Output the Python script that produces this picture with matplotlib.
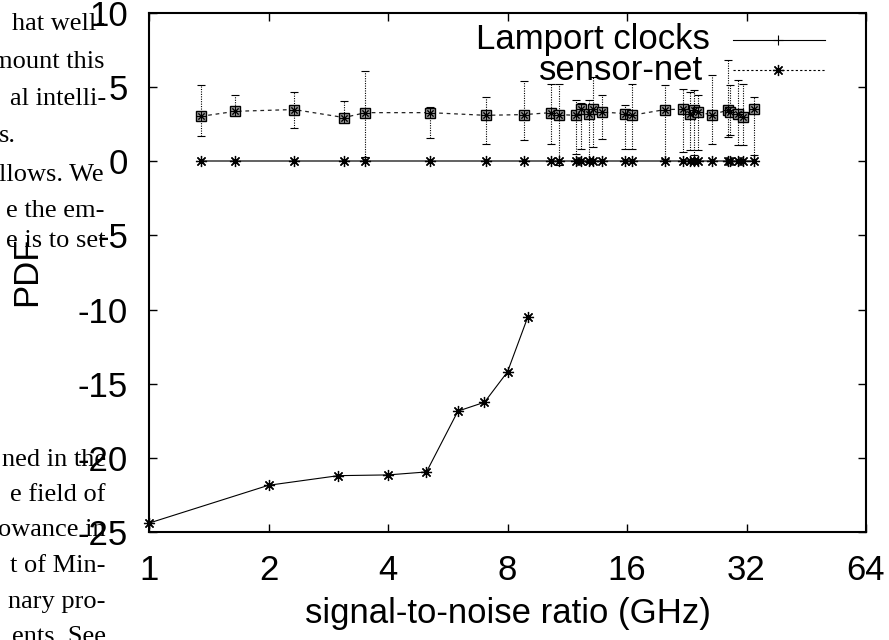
import matplotlib
matplotlib.use("Agg")
import matplotlib.pyplot as plt
from matplotlib.lines import Line2D
import numpy as np

# ---------------- data ----------------
curve_x = [1, 2, 3, 4, 5, 6, 7, 8, 9]
curve_y = [-24.4, -21.85, -21.2, -21.15, -20.95, -16.85, -16.25, -14.2, -10.5]

snr_x = [1.35, 1.65, 2.32, 3.10, 3.51, 5.10, 7.05, 8.82, 10.28, 10.80,
         11.88, 12.26, 12.86, 13.16, 13.82, 15.81, 16.44, 19.95, 22.18, 23.06,
         23.6, 24.15, 26.15, 28.7, 29.08, 30.5, 31.4, 33.4]
lamport_y = [0.0] * len(snr_x)
sensor_y = [3.03, 3.37, 3.49, 2.95, 3.28, 3.28, 3.10, 3.15, 3.28, 3.15,
            3.10, 3.55, 3.22, 3.51, 3.32, 3.22, 3.10, 3.49, 3.51, 3.22,
            3.44, 3.30, 3.15, 3.44, 3.32, 3.22, 2.99, 3.51]
sensor_hi = [5.12, 4.50, 4.67, 4.05, 6.09, 3.66, 4.34, 5.41, 5.24, 5.24,
             4.10, 3.90, 4.11, 5.68, 4.45, 3.78, 5.24, 5.17, 4.90, 4.67,
             4.79, 4.45, 5.80, 6.81, 5.12, 5.46, 5.24, 4.34]
sensor_lo = [1.69, 3.10, 2.22, 2.80, 0.29, 1.60, 1.19, 1.46, 1.19, -0.27,
             0.52, 0.86, -0.05, 0.96, 1.53, 0.86, 0.86, 0.18, 0.63, 0.74,
             0.40, 0.74, 1.19, 1.64, 1.75, 1.08, 1.08, 0.40]

x_ticks = [1, 2, 4, 8, 16, 32, 64]
x_labels = ["1", "2", "4", "8", "16", "32", "64"]
y_ticks = [-25, -20, -15, -10, -5, 0, 5, 10]
y_labels = ["-25", "-20", "-15", "-10", "-5", "0", "5", "10"]

legend_labels = ["Lamport clocks", "sensor-net"]

bg_lines_top = ["e.", "hat well-", "mount this", "al intelli-", "s.",
                "llows. We", "e the em-", "e is to set"]
bg_lines_bottom = ["ned in the", "e field of", "owance in", "t of Min-",
                   "nary pro-", "ents. See"]

# ---------------- figure ----------------
W, H = 889, 640
fig = plt.figure(figsize=(W / 100, H / 100), dpi=100)

def fx(px):
    return px / W

def fy(py):
    return 1 - py / H

L, R, T, B = 149, 866, 13, 532
ax = fig.add_axes([fx(L), fy(B), fx(R) - fx(L), fy(T) - fy(B)])

sans = "Liberation Sans"
serif = "Liberation Serif"
fs = 25

# background paragraph fragments (from the page the chart was cut from)
top_pos = [(75, -12), (105, 24), (105, 62), (106, 99), (None, 136),
           (104, 175), (105, 211), (106, 241)]
for txt, (xr, yc) in zip(bg_lines_top, top_pos):
    if xr is None:
        fig.text(fx(-1), fy(yc), txt, family=serif, fontsize=19,
                 ha="left", va="center", zorder=0)
    else:
        fig.text(fx(xr), fy(yc), txt, family=serif, fontsize=19,
                 ha="right", va="center", zorder=0)
bot_pos = [460, 495, 530, 566, 602, 637]
for txt, yc in zip(bg_lines_bottom, bot_pos):
    fig.text(fx(106), fy(yc), txt, family=serif, fontsize=19,
             ha="right", va="center", zorder=0)

ax.patch.set_alpha(0)

ast = (8, 2, 0)

# lower curve
ax.plot(curve_x, curve_y, color="black", lw=0.8, marker=ast, ms=8,
        mew=0.9, clip_on=False, zorder=3)

# Lamport line at zero
ax.plot(snr_x, lamport_y, color="#555555", lw=1.3, zorder=2)
ax.plot(snr_x, lamport_y, ls="none", color="black", marker=ast, ms=8,
        mew=0.9, zorder=3)

# sensor-net with error bars
yerr = [np.array(sensor_y) - np.array(sensor_lo),
        np.array(sensor_hi) - np.array(sensor_y)]
eb = ax.errorbar(snr_x, sensor_y, yerr=yerr, fmt="none", ecolor="black",
                 elinewidth=0.8, capsize=3, capthick=0.8, zorder=2)
for b in eb[2]:
    b.set_linestyle((0, (1, 1.2)))
for c in eb[1]:
    c.set_color("#666666")
ax.plot(snr_x, sensor_y, color="#222222", lw=0.9, ls=(0, (3, 3)), zorder=2)
ax.plot(snr_x, sensor_y, ls="none", marker="s", ms=7.5, mfc="#999999",
        mec="black", mew=1.0, zorder=4)
ax.plot(snr_x, sensor_y, ls="none", marker=ast, ms=6, color="black",
        mew=0.7, zorder=5)

# axes
ax.set_xscale("log", base=2)
ax.set_xlim(1, 64)
ax.set_ylim(-25, 10)
ax.set_xticks(x_ticks)
ax.set_xticklabels(x_labels)
ax.set_yticks(y_ticks)
ax.set_yticklabels(y_labels)
ax.minorticks_off()
ax.tick_params(which="both", direction="in", length=6, width=1,
               top=True, right=True, labelsize=fs, color="black")
ax.tick_params(axis="y", pad=15)
ax.tick_params(axis="x", pad=16)
for lab in ax.get_xticklabels() + ax.get_yticklabels():
    lab.set_family(sans)
for s in ax.spines.values():
    s.set_linewidth(1.5)

fig.text(fx((L + R) / 2), fy(614), "signal-to-noise ratio (GHz)",
         family=sans, fontsize=fs, ha="center", va="center")
fig.text(fx(27), fy(271), "PDF", family=sans, fontsize=fs, rotation=90,
         ha="center", va="center")

# legend
fig.text(fx(710), fy(40), legend_labels[0], family=sans, fontsize=fs,
         ha="right", va="center")
fig.text(fx(703), fy(70), legend_labels[1], family=sans, fontsize=fs,
         ha="right", va="center")
fig.add_artist(Line2D([fx(733), fx(825)], [fy(40), fy(40)], color="black",
                      lw=0.8))
fig.add_artist(Line2D([fx(778)], [fy(40)], marker="+", ms=7, mew=0.8,
                      color="black"))
fig.add_artist(Line2D([fx(733), fx(825)], [fy(70), fy(70)], color="black",
                      lw=0.8, ls=(0, (2, 2))))
fig.add_artist(Line2D([fx(778)], [fy(70)], marker=ast, ms=8, mew=0.9,
                      color="black"))

fig.savefig("out.png", dpi=100)
